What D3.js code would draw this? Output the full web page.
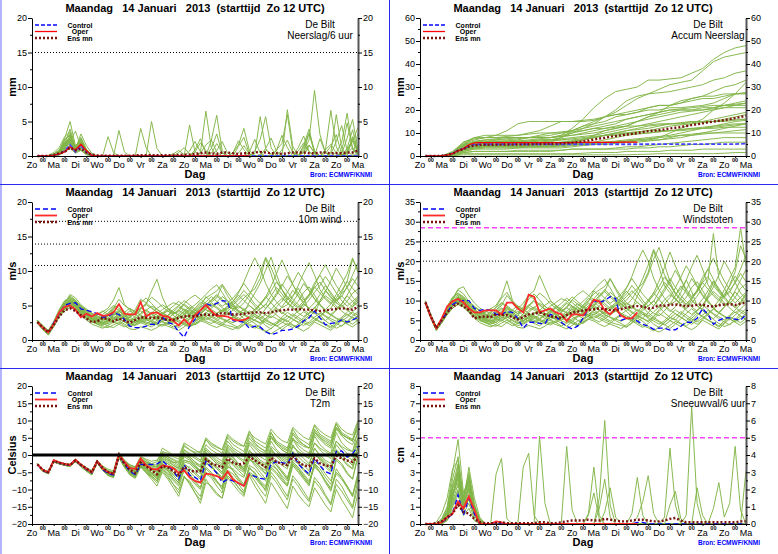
<!DOCTYPE html>
<html><head><meta charset="utf-8">
<script src="https://cdn.jsdelivr.net/npm/d3@7"></script>
<style>body{margin:0;background:#fff}svg{display:block}</style>
</head><body><svg id="c" width="778" height="554"></svg>
<script>
// ---------- labels ----------
const titleText = "Maandag   14 Januari   2013  (starttijd  Zo 12 UTC)";
const dayLabels = ["Zo","Ma","Di","Wo","Do","Vr","Za","Zo","Ma","Di","Wo","Do","Vr","Za","Zo","Ma"];
const nightLabel = "00";
const stationName = "De Bilt";
const sourceText = "Bron: ECMWF/KNMI";
const legendLabels = ["Control","Oper","Ens mn"];
const hours6 = d3.range(6, 361, 6);
const hours12 = d3.range(12, 361, 12);
const precipTicks = [0,5,10,15,20];
const accumTicks = [0,10,20,30,40,50,60];
const windTicks = [0,5,10,15,20];
const gustTicks = [0,5,10,15,20,25,30,35];
const t2mTicks = [-20,-15,-10,-5,0,5,10,15,20];
const snowTicks = [0,1,2,3,4,5,6,7,8];
const windRefLines = [10.8,13.9,17.2];
const gustRefLines = [20,25];
const gustAlarm = [28.5];
const precipRefLines = [15];
const snowAlarm = [5];

// ---------- precipitation per 6h ----------
const precipControl = [0,0,0,0.1, 0.3,0.7,1.6,0.6, 1.5,0.6,0.1,0, 0,0,0,0, 0,0,0,0, 0,0,0,0, 0,0,0,0, 0,0,0,0, 0,0,0,0, 0,0,0,0, 0,0,0,0, 0,0,0,0, 0,0,0,0, 0,0,0,0, 0,0,0,0, 0,0,0.1,0.1];
const precipOper = [0,0,0,0.1, 0.3,0.6,1.3,0.9, 1.7,0.8,0.1,0, 0,0,0,0, 0,0,0,0, 0,0,0,0, 0,0,0,0, 0,0,0,0, 0,0,0,0, 0,0,0,0];
const precipMean = [0,0,0,0.15, 0.4,0.6,1.2,0.8, 1.1,0.5,0.2,0.1, 0.05,0.05,0.05,0.05, 0.05,0.05,0.1,0.1, 0.1,0.1,0.1,0.1, 0.1,0.15,0.15,0.2, 0.2,0.3,0.4,0.5, 0.4,0.3,0.5,0.5, 0.4,0.3,0.4,0.4, 0.5,0.6,0.5,0.4, 0.4,0.3,0.4,0.5, 0.5,0.5,0.4,0.4, 0.5,0.5,0.4,0.4, 0.4,0.5,0.5,0.8];
const precipMembers = [
[0,0,0,0.2, 0.8,2.5,5,1.5, 2.2,0.8,0.2,0, 0,0,0,0, 0,0,0,0, 0,0,0,0, 0,0,0.5,1.2, 0.3,0,0,0, 0,0.8,2.1,0.4, 0,0,0,0, 0,0,0,0, 0,0,0,0, 0,0.6,2.4,9.5, 3.1,0.5,0,0, 0,0.4,1.2,0.3],
[0,0,0.1,0.5, 1.2,2.8,3.5,1, 3.2,1.5,0.4,0, 0,2.8,0.5,0, 0,0,0,0, 0,0,0,0, 0,0,0,0, 0,0,0.5,6.5, 1.2,0,0,0, 0,0,0,0, 0,0.2,0.9,0.3, 0,0,0,0, 0,0,1.5,0.6, 0,0,0,0.5, 2,6.2,1,0.2],
[0,0,0,0.3, 0.6,1.8,2.2,0.8, 1.9,0.6,0,0, 0,0,0,3.7, 0.6,0,0,0, 0,0,0,0, 0,0,0,0, 0,0,0,0, 1.1,3.2,0.4,0, 0,0,0,0, 0.7,2.4,5.7,1.2, 0,0,0,0, 0,0,0,0, 0,0.4,1.4,3.1, 0.2,0,0,0, 0,0,0,0.4],
[0,0,0,0.1, 0.4,1.1,3.1,0.9, 1.4,0.5,0.1,0, 0,0,0,0, 0,0,0,4, 1.2,0,0,0, 0,0,0,0, 0,0,0,0, 0,0,0,0, 0,0,0,0, 0,0,0,0, 0.9,1.8,6,0.7, 0,0,0,0, 0,0,0,0, 0,0.6,2.2,0.4, 0,0,0,0.9],
[0,0,0,0, 0.3,1.4,2.6,1.2, 2.5,0.9,0.2,0, 0,0,0,0, 0,0,0,0, 0,5,1.1,0, 0,0,0,0, 0.7,2.1,0.6,0, 0,0,0,0, 0,0,0,0, 0,0,0,0, 0,0,6.7,1.4, 0,0.9,3.2,0.5, 0,0,0,0, 0,0,0,0.5],
[0,0,0,0, 0.2,0.9,1.6,0.5, 1.1,0.3,0,0, 0,0,0,0, 0,0,0,0, 0,0,0,0, 0,0,0,0, 4.5,0.6,0,0, 0,0,0,0, 0.5,1.6,4,0.8, 0,0,0,0, 0,0,0,0, 0,0,0,0, 0,0.8,6.6,1.3, 0,0,0,0, 0,0,0.7,8.5],
[0,0,0,0.1, 0.5,1.3,1.9,0.7, 1.2,0.4,0,0, 0,0,0,0, 0,0,0,0, 0,0,0,0, 0,0,0,0, 0,0,0,0, 2.3,5.9,0.8,0, 0,0,0,0, 0,0,0,0, 0,0,0,0, 0,0,0,0, 0,0,0,0, 0.3,2.6,5.3,0.9, 0,0,0,7.5],
[0,0,0,0.2, 0.7,2,2.4,1, 1.7,0.6,0.1,0, 0,0,0,0, 0,0,0,0, 0,0,0,0, 0,0.3,0.8,0.2, 0,0,0,0, 0,0,0,0, 0,0,0,0, 0.3,5.7,1.1,0, 0,0,0,0, 0,0,0,0, 0,0,0.5,6, 1.1,0,0,0, 0,0,0,0],
[0,0,0,0, 0.2,1,1.5,0.6, 0.9,0.2,0,0, 0,0,0,0, 0,0,0,0, 0,0,0,0, 0,0,0,0, 0,0,0,0, 0,0,0,0, 0,0,0,0, 0,0,0,0, 0,0,0,0, 0,0,0,0, 0,0,0,0, 0,0,0,0, 0,0,0,0.2],
[0,0,0,0.3, 0.9,1.6,2.9,0.9, 2.1,0.7,0.1,0, 0,0,0,0, 0,0,0,0, 0,0,0,0, 0,0,0,0, 0,0,0,0, 0,0,0,0, 0,0,0,0, 0,0,0,0, 0.8,3,1.2,0, 0,0,0,0, 0,0,0,0, 0,0,0,0, 0.4,1.9,4.8,6.2],
[0,0,0,0, 0.3,1.2,2.2,3.6, 1.3,0.4,0,0, 0,0,0,0, 0,0,0,0, 0,0,0,0, 0,0,0,0, 0,0.9,2.5,0.4, 0,0,0,0, 0,0,0,0, 0,0,0,0, 0,0,0,0, 1.2,2.9,0.6,0, 0,0,0,0, 0,1.1,3.8,0.5, 0,0,0,0],
[0,0,0,0.1, 0.4,1.7,3.9,1.3, 1.6,0.5,0,0, 0,0,0,0, 0,0,0,0, 0,0,0,0, 0,0,0,0, 0,0,0,0, 0,0,0,0, 0,1.4,2.7,0.3, 0,0,0,0, 0,0,0,0, 0,0,0,0, 0,0,0,0, 0.6,4.8,1,0, 0,0,0.5,1.5],
[0,0,0,0, 0.1,0.6,1.1,0.4, 0.8,0.2,0,0, 0,0,0,0, 0,0,0,0, 0,0,0,0, 0,0,0,0, 0,0,0,0, 0,0,0,0, 0,0,0,0, 0,0,0,0, 0,0,0,0, 0,0,0,0, 2.5,0.5,0,0, 0,0,0,0, 0,0,0,0],
[0,0,0,0.2, 0.6,2.2,3.3,1.1, 2.7,1,0.2,0, 0,0,0,0, 0,0,0,0, 0,0,0,0, 0,0,0,0, 0,0,0,0, 0,0,0,0, 0,0,0,0.6, 2.4,0.4,0,0, 0,0,0,0, 0,0,0,0, 0,0,0,0, 0,0,0,3.3],
[0,0,0,0, 0.4,1.5,2,0.9, 1.8,0.7,0,0, 0,0,0,0, 0,0,0,0, 0,0,0,0, 0,0,0,0, 0,0,0,0, 0,0,0,0, 0,0,0,0, 0,0,0,0, 0,0,0,0, 0,1.6,3.9,0.4, 0,0,0,0, 0,0,2.8,0.6, 0,0,0,0],
[0,0,0,0.1, 0.5,1.9,2.7,1.4, 2.3,0.9,0.2,0, 0,0,0,0, 0,0,0,0, 0,0,0,0, 0,0,0,0, 0,0,0,0, 0,0,0,0, 0,0,0,0, 0,0,0,0, 0,0,0,0, 0,0,0,0, 0,0,0.3,2.1, 4.4,0.8,0,0, 0,0,0,0],
[0,0,0,0.2, 0.6,1.7,2.5,1.1, 2,0.8,0.1,0, 0,0,0,0, 0,0,0,0, 0,0,0,0, 0,0,0,0, 0,0,0.4,1.6, 2.3,0.6,0,0, 0,0,0,0, 0,0,1.1,2.6, 0.7,0,0,0, 0,0,0,0, 0,0.9,1.7,0.4, 0,0,0,0],
[0,0,0,0.1, 0.4,1.2,1.8,0.9, 1.5,0.5,0,0, 0,0,0,0, 0,0,0,0, 0,0,0,0, 0,0,0,0, 0,0.6,1.9,0.8, 0,0,0,0, 0.5,2.2,0.9,0, 0,0,0,0, 0,0,0,0, 0,1.3,3.4,0.8, 0,0,0,0, 0,0,0,0],
[0,0,0,0.2, 0.7,2.4,3,1.3, 2.4,0.9,0.1,0, 0,0,0,0, 0,0,0,0, 0,0,0,0, 0,0,0,0, 0,0,0,0, 0,0,0,0, 0,0,0,0, 0,0,0,0, 0,0,0,0, 0.7,1.9,0.6,0, 0,0,0,0, 0,0.6,2.2,4.1, 1.2,0.3,0,0],
[0,0,0,0, 0.3,1,1.4,0.7, 1.3,0.4,0,0, 0,0,0,0, 0,0,0,0, 0,0,0,0, 0,0,0,0, 0,0,0,0, 0,0,0,0, 0,0.4,1.5,0.3, 0,0,0,0, 0,0.9,2.3,0.5, 0,0,0,0, 0,0,0,0, 0,0,0,0, 0.5,1.8,3.5,1],
[0,0,0,0.1, 0.5,1.4,2.1,1, 1.9,0.6,0.1,0, 0,0,0,0, 0,0,0,0, 0,0,0,0, 0,0,0,0, 0,0,0,0, 0,0,0,0, 0,0,0,0, 0,0,0,0, 0,0,0,0, 0,0,0,0, 0,0,0,0, 0,0,0,0, 0,0,0,0],
[0,0,0,0.2, 0.6,1.5,2.3,0.8, 1.6,0.6,0.1,0, 0,0,0,0, 0,0,0,0, 0,0,0,0, 0,0,0,0, 0,0,0,0, 0.4,1.8,0.5,0, 0,0,0,0, 0,0,0,0, 0,0,0,0, 0,0.5,1.6,0.4, 0,0,0,0, 0,0.8,2.5,0.6]
];

// ---------- accumulated precipitation ----------
const accumControl = [0,0,0,0.1, 0.4,1.1,2.5,3.2, 4.4,5,5.1,5.1, 5.1,5.1,5.1,5.1, 5.1,5.1,5.1,5.1, 5.1,5.1,5.1,5.1, 5.1,5.1,5.1,5.1, 5.1,5.1,5.1,5.1, 5.1,5.1,5.1,5.1, 5.1,5.1,5.1,5.1, 5.1,5.2,5.2,5.2, 5.2,5.2,5.2,5.2, 5.2,5.2,5.2,5.2, 5.2,5.2,5.2,5.2, 5.2,5.2,5.3,5.4];
const accumOper = [0,0,0,0.1, 0.4,1,2.3,3.2, 4.9,5.7,5.8,5.8, 5.8,5.8,5.8,5.8, 5.8,5.8,5.8,5.8, 5.8,5.8,5.8,5.8, 5.8,5.8,5.8,5.8, 5.9,5.9,5.9,5.9, 5.9,5.9,5.9,5.9, 6,6,6,6];
const accumMean = [0,0,0,0.1, 0.4,1,2.2,3, 4.1,4.6,4.8,4.9, 4.9,4.9,5,5, 5,5,5.1,5.1, 5.2,5.2,5.3,5.3, 5.4,5.5,5.6,5.8, 6,6.3,6.7,7.2, 7.6,7.9,8.4,8.7, 9,9.3,9.6,9.9, 10.4,10.8,11,11.2, 11.6,12,12.3,12.6, 13,13.4,13.8,14.2, 14.6,15,15.3,15.6, 16,16.5,17,17.5];
const accumMembers = [
[0,0,1.5,5,6.5,7,7,7,7.5,8, 8,8,9,12,16,21,25,28,29,30, 33,33,33.5,34,36,38,42,45,47,48],
[0,0,2,6,7.5,8,8,8.5,9,10, 11,13,15,15,15,15.5,17,19,22,25, 27,29,31,32,33,37,41,43,44,45],
[0,0,1,4,5,5.5,6,6,6,6, 6.5,7,8,10,12,14,17,20,24,26, 27,27.5,28,29,30,31,33,34,36,37],
[0,0,1.5,5.5,7,8,9,11,14,15, 15,15,15,15,15.5,16,17,18,19,20, 21,22,22,23,24,25,25,26,27,27],
[0,0,1,3.5,4.5,5,5,5,5,5, 5.5,6,8,11,13,14,15,17,18,19, 21,22,22,23,25,26,26,27,27,27.5],
[0,0,0.8,3,4,4,4,4,4,4.5, 5,5,5.5,6,7,9,11,12,13,15, 17,18,19,20,20,21,21,22,22,22],
[0,0,1.2,4.5,5.5,6,6,6.5,7,8, 9,10,10,10.5,11,12,13,14,16,17, 18,19,20,20,20,20,20.5,21,21,21],
[0,0,0.5,2.5,3.5,4,4,4,4,4, 4,4.5,5,6,7,8,9,10,11,12, 13,13.5,14,14.5,15,15,15,15.5,16,16],
[0,0,1,4,5.5,6,6,6,6,6, 6,6.5,7,7,7.5,8,9,10,10,10.5, 11,11,11,11.5,12,12,12,12.5,12.5,12.5],
[0,0,0.5,2,3,3,3,3,3.5,4, 4,4,4,4.5,5,5,5,5.5,6,6, 6.5,7,8,9,9.5,10,10,10,10,10],
[0,0,0.3,1.5,2,2,2,2,2,2, 2,2,2.5,3,3,3,3,3.5,4,4, 4.5,5,5.5,6,6.5,7,7.5,8,8,8],
[0,0,0.5,1.5,2,2,2,2,2.5,2.5, 2.5,2.5,2.5,3,3,3,3,3,3,3.5, 3.5,4,4,4.5,5,5,5.5,6,6,6],
[0,0,0.2,1,1,1,1,1,1,1, 1,1,1,1,1.2,1.5,1.5,1.5,2,2, 2,2,2.5,2.5,2.5,3,3,3,3,3],
[0,0,0.2,0.5,0.5,0.5,0.5,0.5,0.5,0.5, 0.5,0.5,0.5,0.5,0.5,0.5,0.5,0.5,0.5,0.7, 0.8,1,1,1,1,1,1,1.2,1.5,1.5],
[0,0,1,5,8,8,8,8,8,8, 8.5,9,10,11,13,15,17,18,18,19, 20,20,21,21,21.5,22,23,25,27,27.5],
[0,0,1.5,5,6,6,6,6,6,6, 6,6,6,6.5,7,8,9,10,11,11.5, 12,13,14,14,15,15,16,17,18,19],
[0,0,0.8,3,4,4.5,5,5,5,5, 5,5,5,5.5,6,6,6,6,6.5,7, 7,7,7.5,8,9,10,11,12,13,14],
[0,0,1,4.5,6,7,7.5,8,8,8, 8,8,8.5,9,9.5,10,11,12,13,15, 17,19,22,24,25,26,28,30,31,33],
[0,0,0.5,3,5,6,7,7.5,8,8, 8,8,9,10,11,12,12,12.5,13,13, 13.5,14,14,14,14.5,15,15,15,15.5,16],
[0,0,1,3.5,4.5,4.5,4.5,4.5,5,5, 5,5,5,5,5.5,5.5,6,6,6,6.5, 7,8,10,12,14,16,20,23,27,32],
[0,0,0.8,3.5,5,5.5,5.5,5.5,5.5,5.5, 5.5,5.5,6,6.5,7,8,9,9.5,10,10.5, 11,12,13,13.5,14,14.5,15,16,17,18],
[0,0,1.2,4,5.5,6,6,6,6,6.5, 7,7,7,7.5,8,8.5,9,9,9.5,10, 10,10.5,11,11,11.5,12,12.5,13,13.5,14],
[0,0,0.7,2.8,4,4.5,4.5,4.5,4.5,4.5, 4.5,4.5,4.5,5,5,5.5,6,6.5,7,7.5, 8,8.5,9,10,11,12,13,14,15,15.5],
[0,0,1.5,6,8,9,9,9,9,9.5, 10,10,10.5,11,12,13,14,15,16,17, 18,19,20,20.5,21,21.5,22,22,22.5,23],
[0,0,0.5,2,3,3.5,3.5,3.5,3.5,3.5, 3.5,3.5,3.5,4,4.5,5,5.5,6,6.5,7, 7.5,8,8.5,9,9,9.5,10,10.5,11,11.5],
[0,0,1,3.5,5,5.5,6,6,6.5,7, 7.5,8,8.5,9,10,11,12,13,14,15, 16,17,18,19,19.5,20,21,22,23,24],
[0,0,0.6,2.5,3.5,4,4,4,4,4, 4,4,4.5,5,5.5,6,7,8,9,9.5, 10,10.5,11,11.5,12,12.5,13,13.5,14,14],
[0,0,1.2,4.5,6,6.5,6.5,6.5,6.5,6.5, 7,7,7.5,8,8.5,9,10,11,12,13, 14,15,16,17,18,19,20,21,22,23]
];

// ---------- 10 m wind ----------
const windControl = [2.6,1.8,1.1,2.5, 3.8,5,5.3,5.4, 4.5,4.3,4.1,3.8, 3.3,3.4,3.9,3.7, 3,2,1.8,1.8, 2,2.3,2.2,3.3, 2.5,2.3,1.2,0.4, 2,3,4.2,5.3, 5,5.3,5.7,5.6, 2.8,2.7,2.6,1.7, 2,1.9,1.2,0.8, 1,1.4,1.4,1.6, 2,2.8,3.2,4.2, 3.2,2.2,2.4,2.5, 2.9,2.6,2.9,3.3];
const windOper = [2.6,1.8,1.1,2.3, 4,4.8,5,4.4, 3.3,3.8,3.4,3.9, 3.5,3.6,4,5.2, 3.8,3.7,3.7,5.5, 3.4,3.9,4,3.5, 3.4,2.8,2.1,3, 2.2,3.6,4.3,5.1, 4.2,3.5,3.5,3.4, 3,2.8,2.9,3.3];
const windMean = [2.6,1.8,1.1,2.2, 3.4,4.3,4.6,4.2, 3.6,3.1,2.6,2.7, 3.2,3,2.7,3.1, 2.8,2.5,2.9,3.3, 3.2,3.2,3.3,3.1, 2.9,2.9,3.2,3.4, 3.5,3.4,3.6,3.7, 3.6,3.7,3.9,3.8, 3.7,3.7,3.8,3.9, 4,4,3.9,4, 4.2,4.3,4.4,4.4, 4.5,4.4,4.4,4.3, 4.2,4.3,4.4,4.5, 4.6,4.5,4.4,4.8];
const windMembers = [
[2.8,1.9,1.3,2.6, 4.2,5.5,6.4,5.8, 4.8,4.2,3.6,3.1, 2.9,3.4,4.5,5.2, 4.1,3.3,3.9,4.6, 5.2,7.1,8.8,6.2, 4.5,3.8,4.1,5.2, 4.6,3.9,4.8,6.3, 5.5,6.1,7.9,6.4, 5.2,4.1,3.9,5.5, 6.8,8.2,10.1,12, 9.5,7.3,5.8,6.4, 7.5,6.1,4.2,3.8, 5.6,7.2,6.1,5.3, 6.9,8.5,11.7,10.2],
[2.5,1.6,0.9,2.1, 3.6,4.9,5.6,5.1, 4.2,3.5,2.9,2.5, 2.2,2.4,3.1,3.3, 2.6,2.1,2.3,2.8, 2.4,2.2,2.9,3.6, 3.1,2.5,2.3,2.9, 3.3,3.8,4.4,4.9, 4.1,3.4,3.1,2.8, 2.5,2.9,3.6,4.2, 3.8,2.9,2.1,1.6, 2.4,3.1,2.8,2.2, 1.8,2.5,3.4,4.1, 3.6,2.8,2.2,1.7, 2.1,2.6,3.3,2.9],
[2.7,2,1.2,2.4, 3.9,5.2,5.9,5.5, 4.6,3.9,3.3,3.6, 4.1,4.6,5.8,7.6, 5.2,4.3,3.7,4.2, 3.9,3.4,3.8,4.4, 4.9,5.4,5.1,4.4, 3.9,3.6,4.2,5.1, 5.8,6.6,5.9,5.1, 4.5,5.2,6.1,6.8, 7.4,8.9,11.8,9.6, 7.1,6.2,5.3,4.8, 5.6,6.9,7.7,6.5, 5.2,4.1,4.6,5.9, 6.4,5.5,4.8,5.9],
[2.4,1.5,0.8,1.9, 3.3,4.4,5,4.6, 3.8,3.1,2.6,2.3, 1.9,1.8,2.2,2.6, 2.1,1.6,1.5,1.9, 1.7,1.4,1.8,2.3, 2,1.7,1.4,1.9, 2.5,2.8,3.1,3.4, 3,2.6,2.3,2.1, 1.9,1.6,2.2,2.9, 2.4,1.8,1.3,0.9, 1.4,1.9,2.4,2.1, 1.7,1.3,1.8,2.6, 2.2,1.8,1.4,2.1, 2.8,2.3,1.9,2.5],
[2.6,1.7,1,2.3, 3.7,4.7,5.3,5.2, 4.4,3.7,3.1,2.9, 3.3,3.9,4.8,4.3, 3.6,3.2,4.1,5.4, 6.1,5.3,4.4,3.9, 3.5,4.1,4.8,4.3, 3.7,4.4,5.2,6.1, 6.6,7.1,8.1,6.9, 5.8,4.9,4.3,3.8, 4.4,5.3,6.2,7.8, 9.6,11.6,9.8,8.1, 6.4,5.5,6.3,7.6, 8.4,7.2,6.3,5.4, 4.8,5.6,6.8,7.4],
[2.9,2.1,1.4,2.7, 4.4,5.7,6.1,5.6, 4.9,4.3,3.9,3.5, 3.1,2.9,3.5,4.1, 3.7,3,2.6,3.1, 3.5,3.9,4.6,5.1, 4.6,4.1,3.6,3.3, 3.8,4.6,5.5,5.1, 4.4,3.9,4.3,4.9, 5.6,6.8,8.4,10.3, 11.9,10.4,8.2,6.6, 5.5,4.7,5.1,6.3, 7.9,9.7,11.2,9.4, 7.3,6.1,5.4,4.6, 5.2,6.5,7.9,9.3],
[2.5,1.6,0.7,2, 3.5,4.6,5.4,4.8, 3.9,3.2,2.7,2.4, 2.7,3.2,3.8,3.5, 2.9,2.4,2.1,2.5, 2.9,3.3,3.1,2.7, 2.3,1.9,2.2,2.6, 3.1,3.5,3.9,4.4, 4,3.6,3.4,3.8, 4.3,4.9,4.5,3.9, 3.4,3.1,3.7,4.4, 5.3,6,5.4,4.6, 3.9,3.4,3.9,4.7, 5.5,6.4,5.8,4.9, 4.2,3.6,4.1,4.8],
[2.7,1.8,1.2,2.5, 4.1,5.3,6.6,6.1, 5.1,4.5,3.9,3.2, 2.8,3.6,4.2,3.9, 3.2,2.8,3.4,4.5, 5.1,4.6,4,3.4, 2.9,2.6,3.1,3.8, 4.5,5.1,5.8,6.6, 7.4,8,6.9,5.6, 4.7,4.1,3.6,3.2, 2.8,2.4,3.1,4, 4.8,5.6,6.9,8.3, 9.8,8.6,7.2,6, 5.1,4.4,5.2,6.6, 8.1,9.6,11.9,9.8],
[2.6,1.7,0.9,2.2, 3.6,4.5,4.9,4.5, 3.7,3.2,2.8,3.1, 3.5,3.1,2.7,2.9, 3.4,3.8,3.3,2.8, 2.4,2.7,3.3,3.8, 4.2,3.6,2.9,2.5, 2.1,2.6,3.2,3.7, 3.3,2.9,2.5,2.9, 3.4,3.9,4.4,5, 4.3,3.6,3,2.5, 2.1,1.5,2.1,2.8, 3.5,4.1,3.6,3, 2.6,2.2,1.7,2.3, 3.1,3.7,3.2,2.7],
[2.8,1.9,1.1,2.3, 3.8,5,5.8,5.3, 4.5,4,3.4,2.8, 2.4,2.9,3.6,4.4, 3.9,3.5,4.4,5.9, 5.4,4.7,4.1,3.7, 3.3,2.9,3.4,4.2, 4.8,4.3,3.8,4.6, 5.4,4.8,4.2,4.6, 5.3,6.1,7.2,6.3, 5.2,4.5,5.1,6.4, 7.6,6.7,5.5,4.7, 4.1,4.9,5.8,6.9, 7.9,9.2,8.1,6.8, 5.7,4.9,5.6,6.3],
[2.4,1.6,1,2.2, 3.4,4.2,4.7,4.4, 3.6,2.9,2.3,2, 1.7,2.1,2.6,2.3, 1.9,2.2,2.8,3.4, 3,2.6,2.2,2, 2.4,2.9,3.5,3.1, 2.6,2.2,2.7,3.2, 2.8,2.4,2.1,1.8, 1.5,2,2.6,3.2, 3.9,4.5,5.2,4.4, 3.6,3,2.6,3.4, 4.3,5.2,4.6,3.9, 3.2,2.8,3.5,4.3, 5.1,4.4,3.7,3.3],
[2.7,1.8,1.2,2.4, 4,5.1,5.5,5.4, 4.8,4.1,3.5,3, 2.6,2.3,2.9,3.5, 3.1,2.6,3.1,3.9, 4.4,3.8,3.3,2.9, 3.6,4.4,5,5.7, 5.1,4.5,4,4.8, 5.7,6.4,5.7,5, 4.4,3.8,3.1,2.5, 2.9,3.6,4.5,5.6, 6.8,8.1,7,5.9, 5.1,4.4,3.8,4.6, 5.7,7,8.6,10.4, 9.1,7.6,6.2,5.4],
[2.5,1.7,0.8,2, 3.5,4.8,5.6,5, 4.1,3.6,3.1,2.6, 2.3,2.8,3.3,3.1, 2.6,2.3,2.5,3, 2.6,2.3,2.6,3.1, 2.7,2.2,1.8,2.4, 3,3.4,3.1,2.7, 2.4,2.8,3.3,3.9, 3.4,2.9,2.6,2.3, 1.9,1.6,1.2,1.7, 2.3,2.9,3.5,3, 2.5,2.1,2.6,3.3, 3.9,3.4,2.8,2.4, 2,2.7,3.5,4.1],
[2.8,2,1.3,2.6, 4.3,5.6,6.2,5.7, 4.9,4.4,3.8,3.4, 3,3.7,4.6,5.9, 5,4.5,4,4.6, 5.3,6.2,5.6,4.8, 4.2,3.8,4.4,5.3, 6,6.5,5.9,5.3, 4.8,5.5,6.3,5.7, 5.1,4.6,5.4,6.5, 8.1,9.9,12,10.5, 8.6,7.3,6.1,5.2, 4.6,5.3,6.6,8.3, 9.4,8,6.6,5.7, 6.3,7.7,9.4,11.2],
[2.6,1.7,1,2.2, 3.7,4.9,5.4,4.9, 4.1,3.5,3,2.7, 2.5,3,3.7,4.2, 3.5,2.9,2.5,2.9, 3.4,4,3.6,3.1, 2.8,3.2,3.8,4.5, 4.1,3.6,3.3,3.9, 4.6,5.3,4.7,4.1, 3.6,3.2,2.8,3.4, 4.2,5.1,6.3,5.4, 4.5,3.8,4.4,5.5, 6.7,8.2,7.1,5.9, 5,4.3,3.7,4.4, 5.3,6.4,5.6,4.9],
[2.7,1.9,1.2,2.5, 4,5.2,5.7,5.2, 4.3,3.7,3.2,2.8, 2.5,2.7,3.2,3.8, 3.3,2.8,3.1,3.7, 4.3,4.9,4.5,3.9, 3.4,3,3.5,4.1, 3.7,3.2,3.7,4.5, 5.2,4.6,4,4.5, 5.1,5.8,6.6,5.8, 4.9,4.1,3.6,3.2, 3.9,4.8,5.9,7.2, 6.3,5.3,4.6,5.4, 6.6,7.9,6.9,5.8, 4.9,4.3,5.1,6.2],
[2.5,1.6,0.9,2.1, 3.5,4.6,5.2,4.8, 4,3.3,2.7,2.3, 2.1,2.6,3,2.8, 2.3,1.9,2.2,2.7, 3.2,2.8,2.4,2.2, 2.6,3.1,2.7,2.3, 2,2.4,2.9,3.4, 3.9,3.4,3,2.6, 2.2,1.8,2.3,2.9, 3.4,3,2.5,2.1, 2.6,3.3,4,3.5, 3,2.5,2.1,2.7, 3.4,4.1,3.6,3.1, 2.7,3.3,4,3.6],
[2.8,2,1.3,2.6, 4.1,5.4,6,5.6, 4.7,4.1,3.6,3.3, 3.7,4.3,5,4.6, 4,3.5,3.9,4.7, 4.2,3.7,3.3,3.7, 4.3,4.9,5.6,5, 4.4,3.9,4.6,5.5, 6.3,5.6,4.9,5.4, 6.1,7,8.2,7.1, 6.1,5.3,4.6,5.4, 6.5,7.8,9.3,8, 6.8,5.8,6.6,7.9, 9.5,10.9,9.3,7.9, 6.7,7.6,8.9,7.8],
[2.6,1.8,1,2.3, 3.6,4.8,5.7,5.3, 4.4,3.8,3.2,2.9, 3.2,2.8,2.5,3, 3.6,4.2,3.7,3.2, 2.9,2.6,2.3,2.7, 3.2,3.7,4.3,3.8, 3.3,2.9,3.4,4, 3.5,3.1,3.6,4.2, 4.9,4.3,3.8,3.3, 2.9,2.5,3.1,3.8, 4.6,4,3.5,3, 2.6,3.2,3.9,4.7, 4.1,3.5,3.1,2.7, 3.3,4,4.8,5.5],
[2.4,1.5,0.8,2, 3.4,4.5,5.1,4.7, 3.9,3.3,2.9,2.6, 2.4,2,1.8,2.3, 2.8,3.3,2.9,2.5, 2.2,1.9,2.4,3, 3.5,3,2.6,2.2, 1.9,2.3,2.8,2.5, 2.1,1.8,2.2,2.8, 3.3,2.9,2.5,2.1, 1.7,2.2,2.8,3.5, 3.1,2.6,2.2,1.8, 2.3,2.9,3.6,3.2, 2.7,2.3,1.9,2.5, 3.1,2.7,2.3,2.9],
[2.7,1.8,1.1,2.4, 3.9,5.1,5.5,5, 4.3,3.8,3.4,3.7, 4.2,3.7,3.2,3.5, 4,4.6,4.1,3.6, 3.2,2.9,3.3,3.9, 4.5,4,3.6,3.2, 3.6,4.2,4.9,4.4, 3.9,3.5,4.1,4.8, 5.6,6.5,5.7,5, 4.4,5.1,6,7.1, 8.4,7.3,6.3,5.5, 4.8,5.6,6.5,7.7, 6.8,5.9,5.2,6.1, 7.2,8.5,7.5,6.6],
[2.5,1.7,1,2.2, 3.6,4.7,5.3,4.9, 4.2,3.6,3.1,2.8, 3.1,3.6,4.1,3.7, 3.2,2.8,2.5,3.1, 3.7,3.3,2.9,2.6, 2.3,2.7,3.2,3.7, 4.3,3.8,3.3,2.9, 3.3,3.8,4.4,3.9, 3.4,3,2.6,3.1, 3.7,3.3,2.8,2.4, 2,2.5,3.1,3.8, 3.3,2.8,2.4,2.9, 3.5,4.2,3.7,3.2, 2.8,2.4,2.9,3.5]
];

// ---------- wind gusts ----------
const gustControl = [9.5,6,3,5, 7,9,9.8,10, 10,8,7.5,7.8, 7.5,6.5,6.5,7.2, 7,5.5,3,4.5, 4.5,4.2,4.1,6.5, 6,4.5,3.5,2.8, 3.5,5.5,8,10, 9.5,10,11,10.5, 5,5.5,5.5,4.8, 4,3.5,2.7,3, 3,2.5,2.6,3.5, 4.5,4.5,5.5,8, 6.5,4,5,5.6, 5.6,5.3,5,6.5];
const gustOper = [9.5,5.8,3,5.5, 8.5,9.8,10.4,9.5, 8,7,7,7.5, 7.5,7.5,6.5,9.5, 9.5,8,7,11.5, 11,7,7.5,8, 7,6.5,4.8,6.5, 6.5,6.2,8,10.2, 9.8,7.5,6.5,8, 6.2,5.5,5.5,7];
const gustMean = [9.5,6,3,5, 7,8.5,9.2,8.5, 7.5,5.5,5.8,6, 5.8,6.5,6.3,6.3, 5.8,5.2,5.8,6.5, 6.7,7,6.5,6, 5.8,5.5,6.3,7, 7.2,7.5,7.6,7.8, 8,7.8,7.6,7.5, 7.8,8.2,8.5,8.6, 8.5,8,8.2,8.8, 8.7,8.9,9,8.8, 8.6,8.7,8.9,9, 8.6,8.5,8.8,9, 9.1,8.9,9.2,9.5];
const gustMembers = [
[9.8,6.2,3.2,5.5, 8.1,10.5,12.9,13.5, 11.2,9.4,8.1,7.3, 6.8,8.4,10.6,12.1, 9.8,8,9.3,11.4, 12.5,16.4,13.2,10.1, 8.6,7.4,8.1,10.2, 9.1,8,9.7,12.5, 11.2,12.3,15.6,12.8, 10.4,8.5,7.9,11.2, 13.8,16.6,20.5,23.5, 19.2,14.8,11.7,12.9, 15.2,12.3,8.6,7.8, 11.4,14.6,12.4,10.8, 14,17.3,23.9,20.6],
[9.3,5.7,2.6,4.6, 6.8,8.6,9.6,9, 7.6,6.3,5.2,4.6, 4.1,4.5,5.6,5.9, 4.9,4.1,4.4,5.1, 4.6,4.3,5.4,6.6, 5.7,4.8,4.4,5.4, 6.1,7,8.1,9, 7.6,6.3,5.8,5.3, 4.8,5.4,6.6,7.7, 7,5.4,4,3.2, 4.5,5.7,5.2,4.2, 3.5,4.7,6.3,7.5, 6.6,5.2,4.2,3.4, 4,4.9,6.1,5.4],
[9.6,6.1,2.9,4.9, 7.5,9.5,10.8,10.4, 8.8,7.5,6.5,7, 7.9,8.8,11,15, 10.1,8.4,7.3,8.2, 7.6,6.7,7.4,8.6, 9.5,10.5,9.9,8.6, 7.6,7.1,8.2,9.9, 11.2,12.8,11.4,9.9, 8.8,10.1,11.8,13.1, 14.3,17.2,22.6,18.5, 13.7,12,10.3,9.3, 10.8,13.3,14.8,12.6, 10.1,8,8.9,11.4, 12.4,10.7,9.3,11.4],
[9.2,5.5,2.5,4.3, 6.4,8.1,9.1,8.5, 7.1,5.8,4.9,4.4, 3.7,3.5,4.3,5, 4.1,3.2,3,3.7, 3.3,2.8,3.5,4.5, 3.9,3.4,2.8,3.7, 4.8,5.4,6,6.6, 5.8,5.1,4.5,4.1, 3.7,3.2,4.3,5.6, 4.7,3.5,2.6,2, 2.8,3.7,4.7,4.1, 3.3,2.6,3.5,5, 4.3,3.5,2.8,4.1, 5.4,4.5,3.7,4.8],
[9.5,5.9,2.8,4.9, 7.1,9,10.1,10, 8.5,7.2,6,5.6, 6.4,7.5,9.3,8.3, 7,6.2,7.9,10.4, 11.7,10.2,8.5,7.5, 6.8,7.9,9.3,8.3, 7.1,8.5,10,11.7, 12.7,13.6,15.5,13.2, 11.1,9.4,8.3,7.3, 8.5,10.2,11.9,15, 18.4,22.3,18.8,15.6, 12.3,10.6,12.1,14.6, 16.1,13.8,12.1,10.4, 9.2,10.8,13.1,14.2],
[10,6.4,3.4,5.2, 8.5,10.9,11.7,10.8, 9.4,8.3,7.5,6.7, 6,5.6,6.7,7.9, 7.1,5.8,5,6, 6.7,7.5,8.8,9.8, 8.8,7.9,6.9,6.3, 7.3,8.8,10.6,9.8, 8.4,7.5,8.3,9.4, 10.8,13.1,16.1,19.8, 22.8,20,15.7,12.7, 10.6,9,9.8,12.1, 15.2,18.6,21.5,18, 14,11.7,10.4,8.8, 10,12.5,15.2,17.9],
[9.4,5.6,2.4,4.4, 6.7,8.8,10.4,9.2, 7.5,6.1,5.2,4.6, 5.2,6.1,7.3,6.7, 5.6,4.6,4,4.8, 5.6,6.3,6,5.2, 4.4,3.6,4.2,5, 6,6.7,7.5,8.4, 7.7,6.9,6.5,7.3, 8.3,9.4,8.6,7.5, 6.5,6,7.1,8.4, 10.2,11.5,10.4,8.8, 7.5,6.5,7.5,9, 10.6,12.3,11.1,9.4, 8.1,6.9,7.9,9.2],
[9.7,6,3.1,5.1, 7.9,10.2,12.7,11.7, 9.8,8.6,7.5,6.1, 5.4,6.9,8.1,7.5, 6.1,5.4,6.5,8.6, 9.8,8.8,7.7,6.5, 5.6,5,6,7.3, 8.6,9.8,11.1,12.7, 14.2,15.4,13.2,10.8, 9,7.9,6.9,6.1, 5.4,4.6,6,7.7, 9.2,10.8,13.2,15.9, 18.8,16.5,13.8,11.5, 9.8,8.4,10,12.7, 15.6,18.4,28.5,18.8],
[9.5,5.8,2.6,4.6, 6.9,8.6,9.4,8.6, 7.1,6.1,5.4,6, 6.7,6,5.2,5.6, 6.5,7.3,6.3,5.4, 4.6,5.2,6.3,7.3, 8.1,6.9,5.6,4.8, 4,5,6.1,7.1, 6.3,5.6,4.8,5.6, 6.5,7.5,8.4,9.6, 8.3,6.9,5.8,4.8, 4,2.9,4,5.4, 6.7,7.9,6.9,5.8, 5,4.2,3.3,4.4, 6,7.1,6.1,5.2],
[9.9,6.3,3,5, 7.3,9.6,11.1,10.2, 8.6,7.7,6.5,5.4, 4.6,5.6,6.9,8.4, 7.5,6.7,8.4,11.3, 10.4,9,7.9,7.1, 6.3,5.6,6.5,8.1, 9.2,8.3,7.3,8.8, 10.4,9.2,8.1,8.8, 10.2,11.7,13.8,12.1, 10,8.6,9.8,12.3, 14.6,12.9,10.6,9, 7.9,9.4,11.1,13.2, 15.2,27,15.6,13.1, 10.9,9.4,10.8,12.1],
[9.2,5.6,2.7,4.8, 6.5,8.1,9,8.4, 6.9,5.6,4.4,3.8, 3.3,4,5,4.4, 3.6,4.2,5.4,6.5, 5.8,5,4.2,3.8, 4.6,5.6,6.7,6, 5,4.2,5.2,6.1, 5.4,4.6,4,3.5, 2.9,3.8,5,6.1, 7.5,8.6,10,8.4, 6.9,5.8,5,6.5, 8.3,10,8.8,7.5, 6.1,5.4,6.7,8.3, 9.8,8.4,7.1,6.3],
[9.6,6,3,5.1, 7.7,9.8,10.6,10.4, 9.2,7.9,6.7,5.8, 5,4.4,5.6,6.7, 5.9,5,5.9,7.5, 8.4,7.3,6.3,5.6, 6.9,8.4,9.6,10.9, 9.8,8.6,7.7,9.2, 10.9,12.3,10.9,9.6, 8.4,7.3,5.9,4.8, 5.6,6.9,8.6,10.8, 13.1,15.6,13.4,11.3, 9.8,8.4,7.3,8.8, 10.9,13.4,16.5,20, 17.5,14.6,11.9,10.4],
[9.3,5.7,2.5,4.5, 6.7,9.2,10.8,9.6, 7.9,6.9,6,5, 4.4,5.4,6.3,5.9, 5,4.4,4.8,5.8, 5,4.4,5,5.9, 5.2,4.2,3.5,4.6, 5.8,6.5,5.9,5.2, 4.6,5.4,6.3,7.5, 6.5,5.6,5,4.4, 3.6,3.1,2.3,3.3, 4.4,5.6,6.7,5.8, 4.8,4,5,6.3, 7.5,6.5,5.4,4.6, 3.8,5.2,6.7,7.9],
[9.8,6.4,3.3,5.3, 8.3,10.8,11.9,11, 9.4,8.4,7.3,6.5, 5.8,7.1,8.8,11.3, 9.6,8.6,7.7,8.8, 10.2,11.9,10.8,9.2, 8.1,7.3,8.4,10.2, 11.5,12.5,11.3,10.2, 9.2,10.6,12.1,10.9, 9.8,8.8,10.4,12.5, 15.6,19,23,20.2, 16.5,14,11.7,10, 8.8,10.2,12.7,15.9, 18,15.4,12.7,10.9, 12.1,14.8,18,21.5],
[9.4,5.9,2.8,4.7, 7,9.2,10.2,9.3, 7.8,6.7,5.7,5.1, 4.8,5.7,7,8, 6.7,5.5,4.8,5.5, 6.5,7.6,6.8,5.9, 5.3,6.1,7.2,8.6, 7.8,6.8,6.3,7.4, 8.7,10.1,8.9,7.8, 6.8,6.1,5.3,6.5, 8,9.7,12,10.3, 8.6,7.2,8.4,10.5, 12.7,15.6,13.5,11.2, 9.5,8.2,7,8.4, 10.1,12.2,10.6,9.3],
[9.6,6.1,3.1,5.2, 7.6,9.9,10.8,9.9, 8.2,7,6.1,5.3, 4.8,5.1,6.1,7.2, 6.3,5.3,5.9,7, 8.2,9.3,8.6,7.4, 6.5,5.7,6.7,7.8, 7,6.1,7,8.6, 9.9,8.7,7.6,8.6, 9.7,11,12.5,11, 9.3,7.8,6.8,6.1, 7.4,9.1,11.2,13.7, 12,10.1,8.7,10.3, 12.5,15,13.1,11, 9.3,8.2,9.7,11.8],
[9.3,5.7,2.6,4.5, 6.7,8.7,9.9,9.1, 7.6,6.3,5.1,4.4, 4,4.9,5.7,5.3, 4.4,3.6,4.2,5.1, 6.1,5.3,4.6,4.2, 4.9,5.9,5.1,4.4, 3.8,4.6,5.5,6.5, 7.4,6.5,5.7,4.9, 4.2,3.4,4.4,5.5, 6.5,5.7,4.8,4, 4.9,6.3,7.6,6.7, 5.7,4.8,4,5.1, 6.5,7.8,6.8,5.9, 5.1,6.3,7.6,6.8],
[9.7,6.2,3.2,5.3, 7.8,10.3,11.4,10.6, 8.9,7.8,6.8,6.3, 7,8.2,9.5,8.7, 7.6,6.7,7.4,8.9, 8,7,6.3,7, 8.2,9.3,10.6,9.5, 8.4,7.4,8.7,10.5, 12,10.6,9.3,10.3, 11.6,13.3,15.6,13.5, 11.6,10.1,8.7,10.3, 12.4,14.8,17.7,15.2, 12.9,11,12.5,15, 18,20.7,17.7,15, 12.7,14.4,16.9,14.8],
[9.5,5.9,2.7,4.8, 6.8,9.1,10.8,10.1, 8.4,7.2,6.1,5.5, 6.1,5.3,4.8,5.7, 6.8,8,7,6.1, 5.5,4.9,4.4,5.1, 6.1,7,8.2,7.2, 6.3,5.5,6.5,7.6, 6.7,5.9,6.8,8, 9.3,8.2,7.2,6.3, 5.5,4.8,5.9,7.2, 8.7,7.6,6.7,5.7, 4.9,6.1,7.4,8.9, 7.8,6.7,5.9,5.1, 6.3,7.6,9.1,10.5],
[9.2,5.5,2.5,4.4, 6.5,8.6,9.7,8.9, 7.4,6.3,5.5,4.9, 4.6,3.8,3.4,4.4, 5.3,6.3,5.5,4.8, 4.2,3.6,4.6,5.7, 6.7,5.7,4.9,4.2, 3.6,4.4,5.3,4.8, 4,3.4,4.2,5.3, 6.3,5.5,4.8,4, 3.2,4.2,5.3,6.7, 5.9,4.9,4.2,3.4, 4.4,5.5,6.8,6.1, 5.1,4.4,3.6,4.8, 5.9,5.1,4.4,5.5],
[9.6,6,2.9,5, 7.4,9.7,10.5,9.5, 8.2,7.2,6.5,7, 8,7,6.1,6.7, 7.6,8.7,7.8,6.8, 6.1,5.5,6.3,7.4, 8.6,7.6,6.8,6.1, 6.8,8,9.3,8.4, 7.4,6.7,7.8,9.1, 10.6,12.4,10.8,9.5, 8.4,9.7,11.4,13.5, 16,13.9,12,10.5, 9.1,10.6,12.4,14.6, 12.9,11.2,9.9,11.6, 13.7,16.2,14.3,12.5],
[9.4,5.8,2.7,4.6, 6.8,8.9,10.1,9.3, 8,6.8,5.9,5.3, 5.9,6.8,7.8,7, 6.1,5.3,4.8,5.9, 7,6.3,5.5,4.9, 4.4,5.1,6.1,7, 8.2,7.2,6.3,5.5, 6.3,7.2,8.4,7.4, 6.5,5.7,4.9,5.9, 7,6.3,5.3,4.6, 3.8,4.8,5.9,7.2, 6.3,5.3,4.6,5.5, 6.7,8,7,6.1, 5.3,4.6,5.5,6.7]
];

// ---------- 2 m temperature ----------
const t2mControl = [-2.8,-4.5,-5.2,-1.6, -2.3,-2.7,-3,-1.5, -3,-4.2,-5.2,-1.8, -4.2,-5.4,-5.8,0.3, -2.5,-4.8,-5.7,-2.8, -2.6,-2.8,-2.6,-1.6, -3.2,-4.5,-7,-2.8, -5.8,-6.5,-7.5,-1.8, -3.6,-5.2,-8,-7, -7.5,-8.2,-9,-5.5, -6.2,-6.8,-7,-2.5, -2,-2.2,-2.6,0.5, -2.6,-4.2,-5.5,-1, -3.1,-4.8,-5.5,1, 1.2,-0.6,0.4,2.5];
const t2mOper = [-2.7,-4.3,-5,-1.5, -2.1,-2.6,-2.9,-1.4, -2.8,-4,-5,-1.8, -3.8,-5,-5.4,0.2, -2,-3.8,-4,-1, -3,-4,-4.2,-3, -3.3,-3.8,-5.2,-4.5, -6.5,-7.5,-8,-5.4, -5.6,-6.1,-7,-4.8, -7.1,-8.1,-9,-5.5];
const t2mMean = [-2.7,-4.4,-5,-1.8, -2.3,-2.7,-2.9,-1.6, -2.8,-3.9,-5,-2, -3.8,-5,-5.5,-0.3, -2.5,-4.3,-5.2,-2.2, -3.3,-4.4,-5.6,-3.2, -3.6,-4.7,-5.8,-3.5, -4.5,-4.8,-4.6,-1.2, -2.5,-3,-3.6,-1, -2.2,-2.8,-2.4,-0.5, -1.5,-2.5,-3.5,-0.8, -2,-2.6,-2.9,-0.3, -2,-3,-3.3,-1, -2.4,-3,-3.3,-0.2, -1,-1.6,-2,-0.3];
const t2mMembers = [
[-2.5,-4.2,-4.8,-1.4, -2,-2.5,-2.7,-1.2, -2.6,-3.6,-4.5,-1.5, -3.2,-4.1,-4.6,0.8, -1.5,-2.8,-3.4,-0.5, -1.2,-1.8,-1.5,0.5, -0.5,-1.2,-2,2.5, 1.5,0.8,1,4.5, 3,2.2,1.5,5.5, 4,3,2.5,6.5, 5,4,3.2,7.5, 5.5,4.2,3.5,8, 6.5,5.2,4.4,8.8, 7,5.8,5,9.5, 7.5,6.3,5.8,10],
[-3,-4.8,-5.5,-2, -2.6,-3,-3.4,-2, -3.4,-4.7,-5.8,-2.3, -4.5,-6,-6.6,-0.8, -3.6,-5.8,-6.8,-3.5, -5,-6.5,-8,-4.5, -6.5,-8.5,-10,-6, -8.5,-11,-13,-7, -9.5,-11.5,-12.5,-6.5, -8.5,-10.5,-12,-6, -9,-11.5,-14,-8, -10.5,-13,-15.5,-9, -11.5,-13.5,-15,-9.5, -12,-14.5,-16.5,-10, -13,-15.5,-18.2,-11],
[-2.6,-4.4,-5,-1.6, -2.2,-2.6,-2.8,-1.5, -2.9,-4,-4.9,-1.7, -3.6,-4.8,-5.3,0, -2,-3.4,-4.2,-1.5, -2.8,-3.8,-4.5,-1, -1.5,-2.2,-2,1.5, 0.5,-0.5,-1.5,2, 0.5,-0.8,-1.8,3, 1.5,0.2,-0.5,4, 2.5,1.2,0.5,5.5, 3.5,2,1.2,5, 2.8,1.5,0.5,6, 4.5,3,2,7.5, 5.5,4,3,6.5],
[-2.9,-4.6,-5.3,-1.9, -2.5,-2.9,-3.2,-1.8, -3.2,-4.5,-5.5,-2.1, -4.2,-5.6,-6.2,-0.5, -3.2,-5.2,-6.2,-3, -4.2,-5.5,-6.8,-3.5, -5,-7,-8.5,-4, -6,-8,-9.5,-3.5, -5,-7.5,-10,-5, -7,-9.5,-11.5,-5.5, -6.5,-8.5,-10,-4, -5.5,-7.5,-9,-3, -4.5,-6.5,-8.5,-2.5, -5,-8,-10.5,-4, -6.5,-9,-12,-5],
[-2.6,-4.3,-4.9,-1.5, -2.1,-2.6,-2.8,-1.3, -2.7,-3.8,-4.8,-1.6, -3.5,-4.6,-5.1,0.5, -1.8,-3,-3.6,-0.8, -2,-2.8,-3.5,-0.2, -1,-2.5,-3.5,0.5, -0.5,-2,-3,1.5, 0,-1.5,-2.5,2.5, 1,-0.5,-1.5,3.5, 2,0.5,-0.5,5, 3,1.5,0.5,6.5, 4.5,3,2,7, 5,3.5,2.5,8, 6,5,4,9],
[-2.8,-4.6,-5.2,-1.7, -2.4,-2.8,-3.1,-1.7, -3,-4.3,-5.3,-2, -4,-5.2,-5.8,-0.2, -2.8,-4.6,-5.5,-2.5, -3.8,-5.2,-6.5,-2.8, -4.2,-5.8,-7.5,-3, -4.8,-6.5,-8,-2.5, -3.5,-5,-6.5,-1.5, -3,-4.5,-6,-1, -2.5,-4,-5.5,0, -1.5,-3,-4,1, -0.5,-2,-3,2, 0,-1.5,-2.5,3, 1,-0.5,-1.5,4],
[-2.5,-4.3,-4.9,-1.5, -2.2,-2.7,-3,-1.6, -2.9,-4.1,-5.1,-1.9, -3.8,-5.1,-5.6,-0.6, -2.6,-4.5,-5.5,-2.8, -3.5,-5,-6,-1.5, -2.5,-4,-5.5,-0.5, -1.5,-3,-4.5,0.5, -1,-2.5,-4,1.5, -0.5,-2.5,-4,-1, -3,-5,-7,-2, -4,-6.5,-8.5,-3, -5,-7,-9,-2.5, -4,-6.5,-8.5,-1.5, -3,-5.5,-7,0],
[-2.7,-4.5,-5.1,-1.7, -2.3,-2.8,-3,-1.6, -3.1,-4.4,-5.4,-2.1, -4.1,-5.5,-6,-0.4, -3,-5,-6,-3.2, -4.5,-6,-7.5,-4, -6,-8.5,-11,-6.5, -7.5,-10,-12,-5.5, -6.5,-9,-11,-4.5, -5.5,-7.5,-9,-3, -4,-6,-7.5,-1.5, -3,-5,-7,-0.5, -2,-4,-6,0.5, -1.5,-3.5,-5,1.5, -1,-3,-4,2.5],
[-2.6,-4.4,-5,-1.6, -2.2,-2.6,-2.9,-1.5, -2.8,-3.9,-4.9,-1.8, -3.7,-4.9,-5.4,0.2, -2.2,-3.8,-4.6,-1.8, -2.5,-3.2,-3.5,1, 0.5,-0.5,-1.2,3, 1.5,0.5,-0.5,4.5, 2.5,1.5,0.5,5, 3,2,1,6, 3.5,2,1,5.5, 3,1.5,0.5,4.5, 3.5,2.5,2,6.5, 5,4,3,8, 6,5,4.5,7.5],
[-2.8,-4.7,-5.4,-1.9, -2.5,-3,-3.3,-1.9, -3.3,-4.6,-5.7,-2.2, -4.4,-5.9,-6.4,-0.7, -3.4,-5.5,-6.5,-3.3, -4.8,-6.2,-7.5,-3, -4.5,-6.5,-8,-2.5, -4,-5.5,-7,-1, -3,-5,-7,-2, -4.5,-6.5,-8.5,-3.5, -5.5,-8,-10.5,-5, -7,-9.5,-12,-6, -8,-10.5,-13,-6.5, -8.5,-11.5,-14,-7, -9,-12,-15,-7],
[-2.7,-4.5,-5.1,-1.7, -2.3,-2.7,-3,-1.5, -2.9,-4.2,-5.2,-1.9, -3.9,-5.2,-5.7,-0.1, -2.4,-4,-4.9,-2, -3,-4,-4.5,-1.2, -2,-3,-3.8,0, -1,-2.5,-3.5,-0.5, -2,-3.5,-5,-1.5, -2.5,-4,-5,-0.5, -1.5,-2.5,-3.5,1.5, 0,-1,-2,2.5, 1,0,-1,3.5, 2,1,0,4, 2.5,1.5,1,5],
[-2.5,-4.2,-4.8,-1.4, -2.1,-2.5,-2.7,-1.3, -2.6,-3.7,-4.6,-1.6, -3.4,-4.5,-5,0.6, -1.6,-2.9,-3.6,-0.5, -1.5,-2.5,-3,0.8, -0.5,-1.5,-2.5,1, -1,-3,-5,-1, -3,-5.5,-7.5,-3, -4.5,-7,-9,-4, -5,-7.5,-9,-3, -4,-6,-7.5,-1.5, -2.5,-4.5,-6,0, -1,-3,-4.5,1.5, 0,-1.5,-3,2.5],
[-2.9,-4.7,-5.3,-1.9, -2.5,-2.9,-3.2,-1.8, -3.2,-4.5,-5.6,-2.2, -4.3,-5.7,-6.2,-0.6, -3.3,-5.4,-6.4,-3.4, -5.2,-7,-9,-5, -7,-9.5,-12,-6.5, -8,-11,-14,-8, -9,-11,-12.5,-6, -7.5,-9.5,-11,-5, -6,-8,-9.5,-3.5, -5,-7,-9,-2.5, -4,-6.5,-8.5,-2, -3,-5.5,-7.5,-1, -2.5,-5,-7,-0.5],
[-2.6,-4.3,-5,-1.6, -2.2,-2.6,-2.8,-1.4, -2.8,-4,-5,-1.7, -3.6,-4.8,-5.3,0.3, -2,-3.5,-4.2,-1.2, -2,-2.5,-2,2, 1,0,-0.5,3.5, 2.5,1.5,0.5,5, 3.5,2.5,1.5,6, 4.5,3.5,2.5,7, 4,3,2,6.5, 3.5,2.5,1.5,6, 4,3,2,7.5, 5.5,4.5,3.5,9, 6,5,4,8.5],
[-2.7,-4.4,-5,-1.7, -2.3,-2.7,-3,-1.6, -3,-4.2,-5.1,-1.9, -3.9,-5.2,-5.7,-0.3, -2.7,-4.4,-5.2,-2.4, -3.2,-4.2,-5,-2, -2.5,-3.5,-4.5,-1.5, -2,-3.5,-5,-2, -3.5,-5,-6.5,-2.5, -2,-3.5,-4.5,0, -1,-2.5,-4,-0.5, -2.5,-4.5,-6.5,-2, -3.5,-5.5,-7.5,-3, -5,-7.5,-9.5,-5, -6.5,-9,-11.5,-6],
[-2.6,-4.3,-5,-1.6, -2.2,-2.6,-2.8,-1.4, -2.8,-4,-4.9,-1.7, -3.7,-4.9,-5.4,0.1, -2.3,-4,-4.7,-2, -3,-4,-5,-2.5, -3.5,-5,-6.5,-4, -5.5,-7.5,-9.5,-5, -6,-8,-9,-3.5, -4,-5.5,-6.5,-1.5, -2,-3.5,-4.5,1, 0,-1.5,-2.5,2.5, 1,0,-1,3.5, 1.5,0,-1,4, 2,0.5,-0.5,5],
[-2.8,-4.6,-5.2,-1.8, -2.4,-2.8,-3.1,-1.7, -3.1,-4.4,-5.4,-2, -4.1,-5.4,-5.9,-0.5, -2.9,-4.8,-5.8,-2.9, -4,-5.2,-6.2,-3, -4,-5.5,-6.5,-2, -2.5,-4,-5.5,-1, -2,-3.5,-5,0, -1.5,-3,-4,1, 0,-1.5,-2.5,2.5, 1,-0.5,-1.5,3, 0.5,-1,-2.5,2, -0.5,-2,-3.5,1.5, -1,-2.5,-4,1],
[-2.5,-4.2,-4.9,-1.5, -2.1,-2.5,-2.8,-1.4, -2.7,-3.8,-4.7,-1.6, -3.5,-4.7,-5.2,0.4, -1.9,-3.3,-4,-1.2, -2.2,-3,-3.5,0, -1,-2,-3,1.5, 0,-1,-2,3, 1.5,0.5,-0.5,4, 2,1,0,5, 3,2,1,6.5, 4,3,2,7.5, 5,4,3,8.5, 6,5,4,9, 6.5,5.5,4.5,9.5],
[-2.9,-4.7,-5.4,-2, -2.6,-3,-3.3,-1.9, -3.3,-4.6,-5.7,-2.2, -4.3,-5.8,-6.3,-0.7, -3.3,-5.4,-6.4,-3.3, -4.6,-6,-7.5,-4, -5.5,-7.5,-9,-4.5, -6.5,-8.5,-10,-4, -5.5,-7.5,-9.5,-4.5, -6.5,-8.5,-10.5,-5.5, -7.5,-10,-12,-6, -8,-10.5,-13,-7, -9,-11.5,-13.5,-7.5, -9.5,-12,-14.5,-8.5, -10.5,-13,-15.5,-9],
[-2.6,-4.4,-5,-1.6, -2.2,-2.7,-2.9,-1.5, -2.9,-4.1,-5,-1.8, -3.8,-5,-5.5,-0.2, -2.5,-4.2,-5,-2.2, -3.2,-4.5,-5.5,-2.5, -3.5,-5,-6,-1.5, -2,-3.5,-4.5,0.5, -1,-2.5,-3.5,1, -1,-2.5,-3.5,1.5, -0.5,-2,-3,2, -0.5,-2,-3.5,1, -1.5,-3,-4.5,0.5, -1,-2.5,-4,1, 0,-1.5,-3,2.5],
[-2.7,-4.5,-5.2,-1.8, -2.4,-2.8,-3.1,-1.7, -3.1,-4.4,-5.4,-2, -4,-5.4,-5.9,-0.4, -2.9,-4.9,-5.9,-3, -4,-5.5,-7,-3.5, -4.5,-6.5,-8,-3, -3.5,-5,-6.5,-1.5, -2.5,-4,-5.5,-0.5, -1.5,-3,-4.5,0.5, -1.5,-3.5,-5.5,-1, -3,-5,-7,-2.5, -4,-6,-8,-3.5, -5,-7.5,-10,-5.5, -7,-9.5,-12,-6.5],
[-2.5,-4.3,-4.9,-1.5, -2.1,-2.6,-2.8,-1.4, -2.7,-3.9,-4.8,-1.7, -3.6,-4.8,-5.3,0.1, -2.1,-3.6,-4.4,-1.6, -2.6,-3.5,-4,-0.5, -1.5,-3,-4,0.5, -0.5,-2,-3.5,1, -0.5,-2,-3,2, 0.5,-1,-2,3, 1,-0.5,-1.5,4, 1.5,0,-1,4.5, 2,0.5,-0.5,5.5, 3,1.5,0.5,6.5, 3.5,2,1,7]
];

// ---------- snowfall per 6h ----------
const snowControl = [0,0,0,0.1, 0.3,0.6,1.7,0.5, 1.5,0.6,0,0, 0,0,0,0, 0,0,0,0, 0,0,0,0, 0,0,0,0, 0,0,0,0, 0,0,0,0, 0,0,0,0.1, 0.1,0,0,0, 0,0,0,0, 0,0,0,0, 0,0,0,0, 0,0,0,0];
const snowOper = [0,0,0,0.1, 0.4,0.6,1.3,0.9, 1.6,0.8,0,0, 0,0.15,0.1,0, 0,0,0,0, 0,0,0,0, 0,0,0,0, 0,0,0,0, 0,0,0,0, 0,0,0,0];
const snowMean = [0,0,0.05,0.15, 0.4,0.6,1.1,0.7, 0.6,0.3,0.1,0.05, 0.05,0.05,0.1,0.05, 0.05,0.05,0.05,0.05, 0.05,0.1,0.1,0.05, 0.05,0.1,0.15,0.2, 0.2,0.2,0.25,0.2, 0.2,0.3,0.25,0.2, 0.15,0.15,0.2,0.25, 0.25,0.2,0.15,0.15, 0.2,0.3,0.35,0.2, 0.1,0.1,0.1,0.1, 0.1,0.1,0.1,0.1, 0.1,0.1,0.15,0.15];
const snowMembers = [
[0,0,0,0.3, 1,3,4.9,1.8, 2.6,1,0.2,0, 0,0,0,0, 0,0,0,0, 0,0,0,0, 0,0,0,0, 0,0,0,0, 0,0,0,0, 0,0,0,0, 0,0,0,0, 0,0,0,0, 0,0,0,0, 0,0,0,0, 0,0,0,0],
[0,0,0.1,0.6, 1.5,3.2,3.7,1.2, 3.3,1.5,0.4,0, 0,2.9,3.8,0.3, 0,0,0,0, 0,0,0,0, 0,0,0,0, 0,0,0,0, 0,0,0,0, 0,0,0,0, 0,0,0,0, 0,0,0,0, 0,0,0,0, 0,0,0,0, 0,0,0,0],
[0,0,0,0.2, 0.7,2.1,2.8,1, 2.2,0.8,0,0, 0,0,0,0, 0,0,3.3,4.1, 0.5,0,0,0, 0,0,0,0, 0,0,0,0, 0,0,0,0, 0,0,0,0, 0,0,0,0, 0,0,0,0, 0,0,0,0, 0,0,0,0, 0,0,0,0],
[0,0,0,0.1, 0.5,1.4,3.4,1.1, 1.6,0.6,0.1,0, 0,0,0,0, 0,0,0,0, 0,5.1,1.2,0, 0,0,0,0, 0,0,0,0, 0,0,0,0, 0,0,0,0, 0,0,0,0, 0,0,0,0, 0,0,0,0, 0,0,0,0, 0,0,0,0],
[0,0,0,0, 0.4,1.6,2.6,1.4, 2.8,1,0.2,0, 0,0,0,0, 0,0,0,0, 0,0,0,0, 0,0,4.5,0.8, 0,0,0,0, 0,0,0,0, 0,0,0,0, 0,0,0,0, 0,0,0,0, 0,0,0,0, 0,0,0,0, 0,0,0,0],
[0,0,0,0, 0.2,1,1.7,0.6, 1.2,0.3,0,0, 0,0,0,0, 0,0,0,0, 0,0,0,0, 0,0,0,0, 0,0,0.6,3.3, 0.5,0,0,0, 0,0,0,0, 0,0,0,0, 0,0,0,0, 0,0,0,0, 0,0,0,0, 0,0,0,3.1],
[0,0,0,0.1, 0.6,1.9,2.4,0.9, 1.4,0.5,0,0, 0,0,0,0, 0,0,0,0, 0,0,0,0, 0,0,0,0, 0,0,0,0, 1.5,6,1.1,0, 0,0,0,0, 0,0,0,0, 0,0,0,0, 0,0,0,0, 0,0,0,0, 0,0,0,0],
[0,0,0,0.2, 0.8,2.3,3.1,1.3, 2,0.7,0.1,0, 0,0,0,0, 0,0,0,0, 0,0,0,0, 0,0,0,0, 0,0,0,0, 0,0,0,0, 0,0,0,0.4, 1.3,2.8,0.6,0, 0.4,4.4,1.1,0, 0,0,0,0, 0,0,0,0, 0,0,0,0],
[0,0,0,0, 0.3,1.2,2,0.8, 1.7,0.6,0,0, 0,0,0,0, 0,0,0,0, 0,0,0,0, 0,0,0,0, 0,0,0,0, 0,0,0,0, 0,0,0,0, 0,0,0,0, 0,0,0,0, 0.5,6.8,1.2,0, 0,0,0,0, 0,0,0,0],
[0,0,0,0.2, 0.7,1.8,2.2,1.5, 2.4,1.1,0.3,0, 0,0,0,0, 0,0,0,0, 0,0,0,0, 0,0,0,0, 0,0,0,0, 0,0,0,0, 0,0,0,0, 0,0,0,0, 0,0,0,0, 0,0,0,0, 0,0.9,2.4,0.4, 1.2,4.5,0.8,0, 0,0,0,0],
[0,0,0,0, 0.2,0.8,1.3,0.5, 0.9,0.2,0,0, 0,0,0,0, 0,0,0,0, 0,0,0,0, 0,0,0,0, 0,0,0,0, 0,0,0,0, 0,0,0,0, 0,0,0,0, 0,0,0,0, 0,0,2.1,0.5, 0,0,0,0, 0,0,0,0, 0,0,1.4,0.3],
[0,0,0,0.1, 0.5,1.5,2.9,1.2, 2.3,0.9,0.2,0, 0,0,0,0, 0,0,0,0, 0,0,0,0, 0,0,0,0, 0,0,0,0, 0.9,2.6,0.4,0, 0,0,0,0, 0,0,0,0, 0,0,0,0, 0,0,0,0, 0,0,0,0, 0,0,0,0, 0,0,0,0],
[0,0,0,0.2, 0.6,2,3,1.6, 2.5,0.9,0.1,0, 0,0,0,0, 0,0,0,0, 0,0,0,0, 0,0,0,0, 0,0,0,0, 0,0,0,0, 0,0,0,0, 0,0,0,0, 0,0,0,0, 0,0,0,0, 0,0,0,0, 0,0,0,0],
[0,0,0,0.1, 0.4,1.3,2.3,1, 1.9,0.7,0,0, 0,0,0,0, 0,0,0,0, 0,0,0,0, 0,0,0,0, 0,0,0.5,1.8, 0.3,0,0,0, 0,0,0,0, 0,0,0,0, 0,0,0,0, 0,0,0,0, 0,0,0,0, 0,0,0,0],
[0,0,0,0.3, 0.9,2.6,3.9,1.6, 3,1.2,0.2,0, 0,0,0,0, 0,0,0,0, 0,0,0,0, 0,0,0,0, 0,0,0,0, 0,0.7,2.1,0.4, 0,0,0,0, 0,0,0,0, 0,0,0,0, 0,0,0,0, 0,0,0,0, 0,0,0,0],
[0,0,0,0, 0.3,1.1,1.9,0.8, 1.5,0.5,0,0, 0,0,0,0, 0,0,0,0, 0,0,0,0, 0,0,0,0, 0,0,0,0, 0,0,0,0, 0,0,0.6,2.7, 0.5,0,0,0, 0,0,0,0, 0,0,0,0, 0,0,0,0, 0,0,0,0],
[0,0,0,0.1, 0.5,1.7,2.7,1.1, 2.1,0.8,0.1,0, 0,0,0,0, 0,0,0,0, 0,0,0,0, 0,0,0,0, 0,0,0,0, 0,0,0,0, 0,0,0,0, 0,0,0,0, 0,1.1,1.9,0.3, 0,0,0,0, 0,0,0,0, 0,0,0,0],
[0,0,0,0.2, 0.7,2.2,3.5,1.3, 2.7,1,0.2,0, 0,0,0,0, 0,0,0,0, 0,0,0,0, 0,0,0,0, 0,0,0,0, 0,0,0,0, 0,0,0,0, 0,0,0,0, 0,0,0,0, 0,0,0,0, 0,0,0,0, 0,0,0,0]
];

// ---------- drawing ----------
const FONT = '"Liberation Sans", Arial, Helvetica, sans-serif';
const svg = d3.select("#c");
svg.append("rect").attr("width",778).attr("height",554).attr("fill","#fff");

const panels = [
  {ox:0, oy:0, domain:[0,20], ticks:precipTicks, ylab:"mm", name:"Neerslag/6 uur", members:precipMembers, mh:hours6, control:precipControl, oper:precipOper, mean:precipMean, dotted:precipRefLines, alarm:[], zero:false, top:true},
  {ox:388, oy:0, domain:[0,60], ticks:accumTicks, ylab:"mm", name:"Accum Neerslag", members:accumMembers, mh:hours12, control:accumControl, oper:accumOper, mean:accumMean, dotted:[], alarm:[], zero:false, top:true},
  {ox:0, oy:184, domain:[0,20], ticks:windTicks, ylab:"m/s", name:"10m wind", members:windMembers, mh:hours6, control:windControl, oper:windOper, mean:windMean, dotted:windRefLines, alarm:[], zero:false, top:false},
  {ox:388, oy:184, domain:[0,35], ticks:gustTicks, ylab:"m/s", name:"Windstoten", members:gustMembers, mh:hours6, control:gustControl, oper:gustOper, mean:gustMean, dotted:gustRefLines, alarm:gustAlarm, zero:false, top:false},
  {ox:0, oy:368, domain:[-20,20], ticks:t2mTicks, ylab:"Celsius", name:"T2m", members:t2mMembers, mh:hours6, control:t2mControl, oper:t2mOper, mean:t2mMean, dotted:[], alarm:[], zero:true, top:false},
  {ox:388, oy:368, domain:[0,8], ticks:snowTicks, ylab:"cm", name:"Sneeuwval/6 uur", members:snowMembers, mh:hours6, control:snowControl, oper:snowOper, mean:snowMean, dotted:[], alarm:snowAlarm, zero:false, top:false}
];

const L = 32, R = 358, T = 18, B = 156;
const green = "#82b548";

panels.forEach((p, pi) => {
  const g = svg.append("g").attr("transform", `translate(${p.ox},${p.oy})`);
  const x = d3.scaleLinear().domain([0,360]).range([L,R]);
  const y = d3.scaleLinear().domain(p.domain).range([B,T]);
  const cid = "clip" + pi;
  g.append("clipPath").attr("id", cid).append("rect").attr("x", L).attr("y", T - 3).attr("width", R - L).attr("height", B - T + 5);
  const plot = g.append("g").attr("clip-path", `url(#${cid})`);
  const lineFor = hrs => d3.line().x((d,i) => x(hrs[i])).y(d => y(d));

  p.members.forEach(m => {
    plot.append("path").attr("d", lineFor(p.mh)(m)).attr("fill","none")
      .attr("stroke", green).attr("stroke-width", 1).attr("stroke-opacity", 0.95);
  });

  p.dotted.forEach(v => {
    g.append("line").attr("x1", L).attr("x2", R).attr("y1", y(v)).attr("y2", y(v))
      .attr("stroke", "#000").attr("stroke-width", 1).attr("stroke-dasharray", "1,2");
  });
  p.alarm.forEach(v => {
    g.append("line").attr("x1", L).attr("x2", R).attr("y1", y(v)).attr("y2", y(v))
      .attr("stroke", "#ff44ff").attr("stroke-width", 1.5).attr("stroke-dasharray", "5,3");
  });
  if (p.zero) {
    g.append("line").attr("x1", L).attr("x2", R).attr("y1", y(0)).attr("y2", y(0))
      .attr("stroke", "#000").attr("stroke-width", 3);
  }

  const ctrlColor = p.top ? "#4444ff" : "#0000ff";
  const ctrlWidth = p.top ? 1.8 : 1.3;
  const ctrlDash = p.top ? "4,2" : "5,3";
  const operWidth = p.top ? 1.3 : 1.8;
  const operColor = p.top ? "#ff0000" : "#ff2a2a";
  const meanColor = "#7a1212";

  plot.append("path").attr("d", lineFor(hours6)(p.control)).attr("fill","none")
    .attr("stroke", ctrlColor).attr("stroke-width", ctrlWidth).attr("stroke-dasharray", ctrlDash);
  plot.append("path").attr("d", lineFor(hours6)(p.oper)).attr("fill","none")
    .attr("stroke", operColor).attr("stroke-width", operWidth);
  plot.append("path").attr("d", lineFor(hours6)(p.mean)).attr("fill","none")
    .attr("stroke", meanColor).attr("stroke-width", 2.4).attr("stroke-dasharray", "2,2");

  const minor = p.ticks.slice(1).map((t,i) => (t + p.ticks[i]) / 2);
  const la = g.append("g").attr("transform", `translate(${L},0)`)
    .call(d3.axisLeft(y).tickValues(p.ticks).tickSize(4).tickSizeOuter(0).tickPadding(1));
  la.attr("font-size", 9).attr("font-family", FONT);
  la.select(".domain").attr("stroke", "#000");
  const ra = g.append("g").attr("transform", `translate(${R},0)`)
    .call(d3.axisRight(y).tickValues(p.ticks).tickSize(4).tickSizeOuter(0).tickPadding(1));
  ra.attr("font-size", 9).attr("font-family", FONT);
  ra.select(".domain").attr("stroke", "#555").attr("stroke-width", 2);
  minor.forEach(v => {
    g.append("line").attr("x1", L - 2).attr("x2", L).attr("y1", y(v)).attr("y2", y(v)).attr("stroke", "#000");
    g.append("line").attr("x1", R).attr("x2", R + 2).attr("y1", y(v)).attr("y2", y(v)).attr("stroke", "#000");
  });
  const ba = g.append("g").attr("transform", `translate(0,${B})`)
    .call(d3.axisBottom(x).tickValues(d3.range(0, 361, 12)).tickSize(2).tickSizeOuter(0).tickFormat(() => ""));
  ba.select(".domain").attr("stroke", "#000");

  dayLabels.forEach((d, i) => {
    g.append("text").attr("x", x(i * 24)).attr("y", 167.5).attr("text-anchor", "middle")
      .attr("font-family", FONT).attr("font-size", 9).text(d);
  });
  for (let i = 0; i < dayLabels.length - 1; i++) {
    g.append("text").attr("x", x(i * 24 + 12)).attr("y", 162).attr("text-anchor", "middle")
      .attr("font-family", FONT).attr("font-size", 5.5).attr("font-weight", "bold").text(nightLabel);
  }

  g.append("text").attr("x", 195).attr("y", 12).attr("text-anchor", "middle")
    .attr("font-family", FONT).attr("font-size", 11).attr("font-weight", "bold")
    .style("white-space", "pre").text(titleText);
  g.append("text").attr("x", 195).attr("y", 178).attr("text-anchor", "middle")
    .attr("font-family", FONT).attr("font-size", 11).attr("font-weight", "bold").text("Dag");
  g.append("text").attr("x", 341).attr("y", 177).attr("text-anchor", "middle")
    .attr("font-family", FONT).attr("font-size", 6.5).attr("font-weight", "bold").attr("fill", "#0000ff").text(sourceText);
  g.append("text").attr("transform", `translate(15.5,${(T + B) / 2}) rotate(-90)`).attr("text-anchor", "middle")
    .attr("font-family", FONT).attr("font-size", 11).attr("font-weight", "bold").text(p.ylab);
  g.append("text").attr("x", 320).attr("y", 28).attr("text-anchor", "middle")
    .attr("font-family", FONT).attr("font-size", 10).text(stationName);
  g.append("text").attr("x", 320).attr("y", 38.5).attr("text-anchor", "middle")
    .attr("font-family", FONT).attr("font-size", 10).text(p.name);

  const ly = [25, 31.5, 38];
  g.append("line").attr("x1", 35).attr("x2", 57).attr("y1", ly[0]).attr("y2", ly[0])
    .attr("stroke", ctrlColor).attr("stroke-width", ctrlWidth).attr("stroke-dasharray", ctrlDash);
  g.append("line").attr("x1", 35).attr("x2", 57).attr("y1", ly[1]).attr("y2", ly[1])
    .attr("stroke", operColor).attr("stroke-width", operWidth);
  g.append("line").attr("x1", 35).attr("x2", 57).attr("y1", ly[2]).attr("y2", ly[2])
    .attr("stroke", meanColor).attr("stroke-width", 2.4).attr("stroke-dasharray", "2,2");
  legendLabels.forEach((t, i) => {
    g.append("text").attr("x", 80).attr("y", ly[i] + 2.5).attr("text-anchor", "middle")
      .attr("font-family", FONT).attr("font-size", 7).attr("font-weight", "bold").text(t);
  });
});

svg.append("rect").attr("x", 0).attr("y", 0).attr("width", 2).attr("height", 554).attr("fill", "#b4b4ff");
svg.append("line").attr("x1", 389.5).attr("x2", 389.5).attr("y1", 0).attr("y2", 554).attr("stroke", "#2b2bf0");
[184.5, 368.5].forEach(v => {
  svg.append("line").attr("x1", 0).attr("x2", 778).attr("y1", v).attr("y2", v).attr("stroke", "#2b2bf0");
});
</script>
</body></html>
